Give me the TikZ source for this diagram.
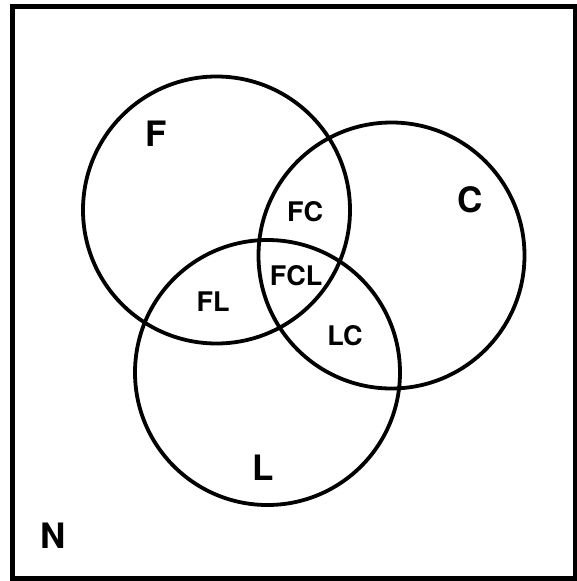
\documentclass[tikz,border=0pt]{standalone}
\usepackage{fontspec}
\setmainfont{TeX Gyre Heros}
\begin{document}
\begin{tikzpicture}[x=1pt,y=-1pt,
  setcircle/.style={draw,line width=3.8pt},
  biglabel/.style={inner sep=0pt,text depth=0pt,font=\bfseries\fontsize{35}{35}\selectfont},
  smalllabel/.style={inner sep=0pt,text depth=0pt,font=\bfseries\fontsize{27}{27}\selectfont}]
\useasboundingbox (0,0) rectangle (577,581);
\draw[line width=5pt] (12,6) rectangle (575.5,578);
\draw[setcircle] (216.5,210) circle[radius=133.5];
\draw[setcircle] (391.5,255.5) circle[radius=133];
\draw[setcircle] (267.5,372.5) circle[radius=132.5];
\node[biglabel] (F) at (156,134) {F};
\node[biglabel] (C) at (470,200) {C};
\node[biglabel] (L) at (263,468) {L};
\node[biglabel] (N) at (53,536) {N};
\node[smalllabel] (FC) at (305,211) {FC};
\node[smalllabel] (FCL) at (296,275) {FCL};
\node[smalllabel] (FL) at (213,302) {FL};
\node[smalllabel] (LC) at (345,335) {LC};
\end{tikzpicture}
\end{document}
